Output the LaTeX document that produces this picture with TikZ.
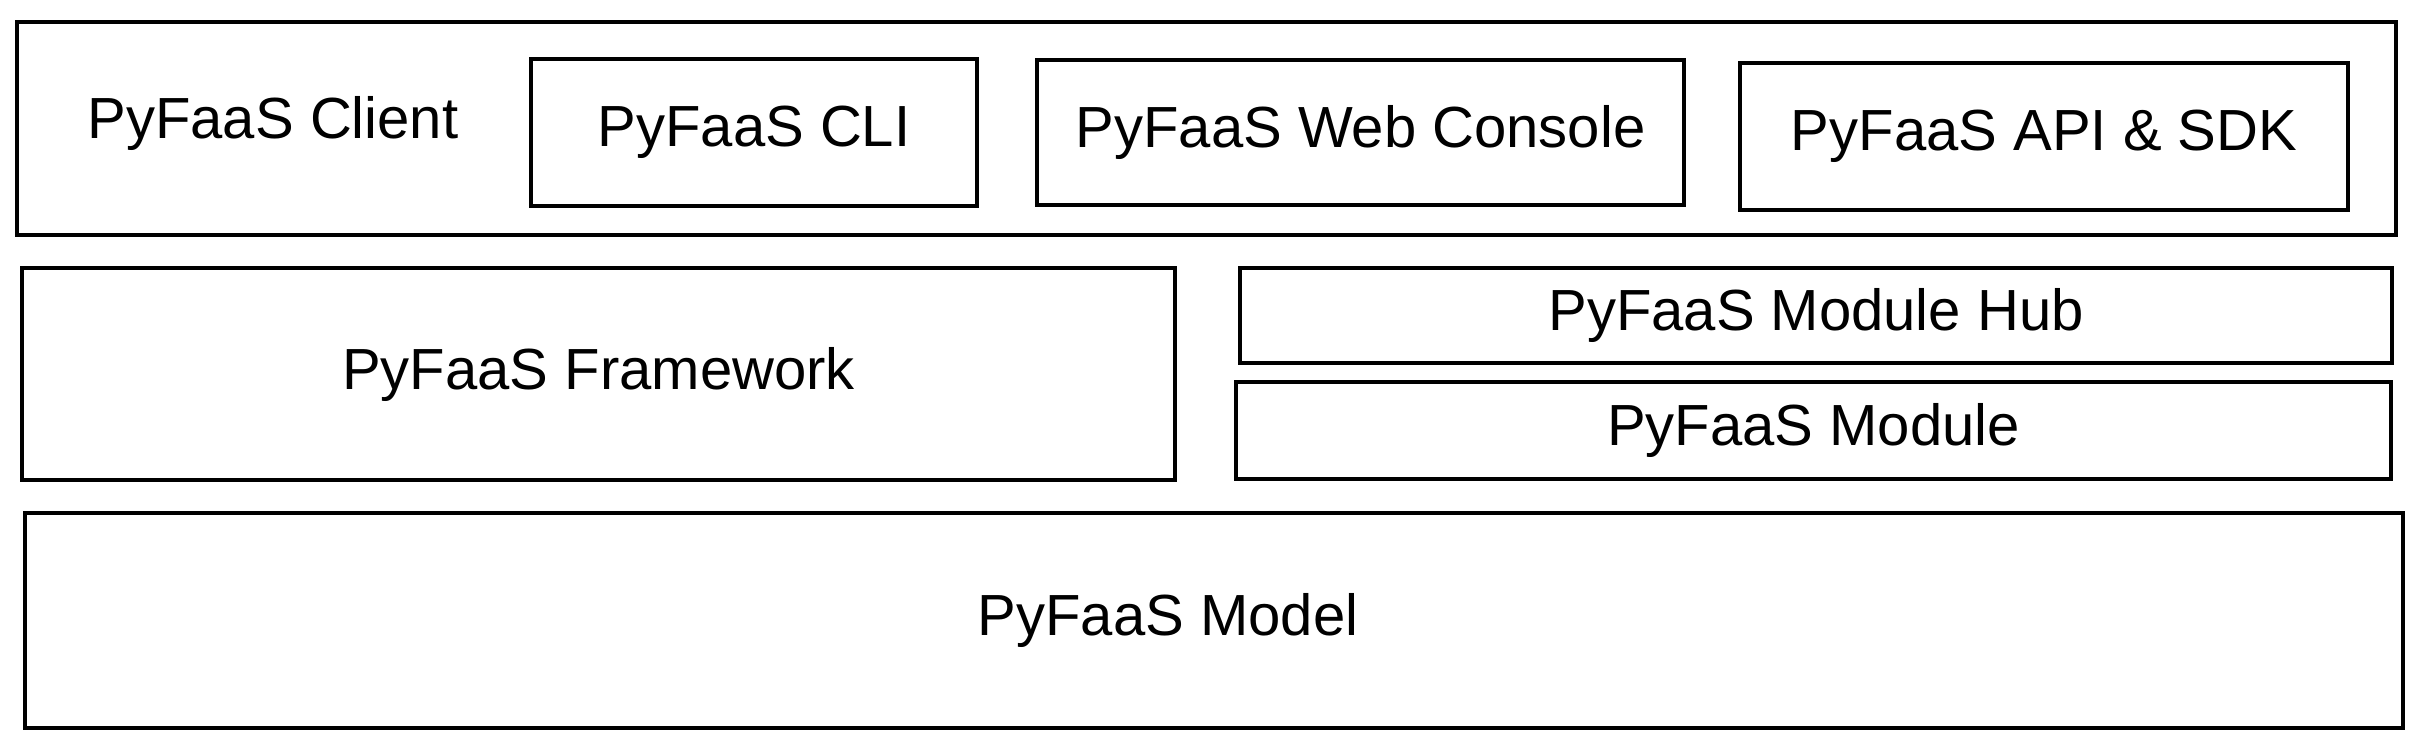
\documentclass[tikz,border=0pt]{standalone}
\usepackage{fontspec}
\setmainfont{Liberation Sans}
\usetikzlibrary{fit,positioning}

\begin{document}
\begin{tikzpicture}[x=0.01cm,y=0.01cm]
	\tikzstyle{layer}=[rectangle, draw=black, line width=0.9pt, inner sep=0pt, outer sep=0pt]
	\tikzstyle{tag}=[inner sep=0pt, font=\fontsize{16.5}{20}\selectfont]
	\useasboundingbox (0,0) rectangle (2422,748);
	
	% Draw the client layer and its tools
	\node[layer, fit={(17,513) (2396,726)}] (client) {};
	\node[tag] (client-label) at (273,624) {PyFaaS Client};
	\foreach \name/\xa/\ya/\xb/\yb/\txt in {cli/531/542/977/689/PyFaaS CLI, web/1037/543/1684/688/PyFaaS Web Console, api/1740/538/2348/685/PyFaaS API \& SDK}
	 \node[layer, fit={(\xa,\ya) (\xb,\yb)}, label={[tag]center:\txt}] (\name) {};
	
	% Draw the framework and the module layers
	\node[layer, fit={(22,268) (1175,480)}, label={[tag]center:PyFaaS Framework}] (framework) {};
	\node[layer, fit={(1240,385) (2392,480)}, label={[tag]center:PyFaaS Module Hub}] (hub) {};
	\node[layer, fit={(1236,269) (2391,366)}, label={[tag]center:PyFaaS Module}] (module) {};
	
	% Draw the model layer
	\node[layer, fit={(25,20) (2403,235)}, label={[tag, xshift=-0.46cm]center:PyFaaS Model}] (model) {};
\end{tikzpicture}
\end{document}
